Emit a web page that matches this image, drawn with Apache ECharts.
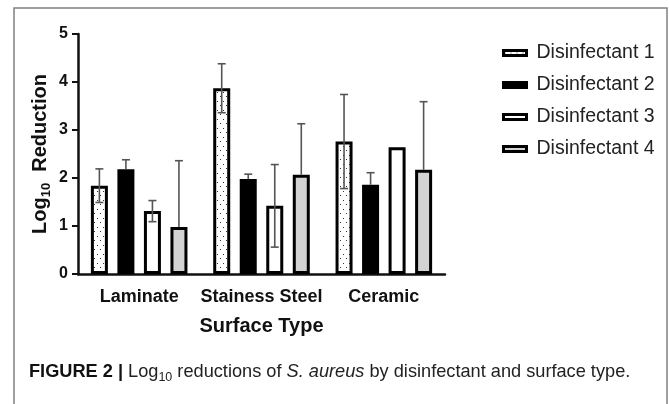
<!DOCTYPE html>
<html><head><meta charset="utf-8">
<script src="https://cdn.jsdelivr.net/npm/echarts@6/dist/echarts.min.js"></script>
<style>html,body{margin:0;padding:0;background:#fff}#c{width:669px;height:404px}</style>
</head><body><div id="c"></div>
<script>
// ---- data ----
const categories = ['Laminate', 'Stainess Steel', 'Ceramic'];
const seriesNames = ['Disinfectant 1', 'Disinfectant 2', 'Disinfectant 3', 'Disinfectant 4'];
const d1 = [1.84, 3.87, 2.76];
const d2 = [2.18, 1.98, 1.86];
const d3 = [1.31, 1.42, 2.64];
const d4 = [0.98, 2.07, 2.17];
const sd1 = [0.35, 0.51, 0.98];
const sd2 = [0.20, 0.10, 0.25];
const sd3 = [0.22, 0.86, 0];
const sd4 = [1.38, 1.06, 1.42];
const yTicks = [0, 1, 2, 3, 4, 5];

// ---- style ----
const FONT = "'Liberation Sans', Arial, Helvetica, sans-serif";
const BAR_W = 17, BAR_GAP = 0.56;
const PITCH = BAR_W * (1 + BAR_GAP);
const INK = '#111';

function dotPattern() {
  const c = document.createElement('canvas');
  c.width = 6; c.height = 9;
  const g = c.getContext('2d');
  g.fillStyle = '#fff'; g.fillRect(0, 0, 6, 9);
  g.fillStyle = '#333';
  g.fillRect(1, 2, 1, 1);
  g.fillRect(4, 6, 1, 1);
  return c;
}
const fills = [{ image: dotPattern(), repeat: 'repeat' }, '#000', '#fff', '#d3d3d3'];
const means = [d1, d2, d3, d4];
const sds = [sd1, sd2, sd3, sd4];
const showLower = [1, 0, 1, 0];

const errData = [];
for (let s = 0; s < 4; s++) for (let c = 0; c < categories.length; c++)
  errData.push([c, s, means[s][c], sds[s][c], showLower[s]]);

const chart = echarts.init(document.getElementById('c'), null, { renderer: 'canvas' });

const barSeries = seriesNames.map((n, i) => ({
  type: 'bar', name: n, data: means[i], barWidth: BAR_W, barGap: (BAR_GAP * 100) + '%',
  itemStyle: { color: fills[i], borderColor: '#000', borderWidth: 3 },
  emphasis: { disabled: true }, silent: true
}));

chart.setOption({
  animation: false,
  textStyle: { fontFamily: FONT },
  grid: { left: 78, right: 224, top: 34, bottom: 130 },
  legend: {
    orient: 'vertical', left: 497, top: 38, icon: 'rect',
    itemWidth: 23, itemHeight: 5, itemGap: 12, selectedMode: false,
    data: seriesNames,
    itemStyle: { borderWidth: 3, borderColor: '#000' },
    textStyle: { fontSize: 19.5, color: '#222', fontFamily: FONT, padding: [0, 0, 0, 5], lineHeight: 19 }
  },
  xAxis: {
    type: 'category', data: categories,
    axisLine: { lineStyle: { color: INK, width: 2.5 } },
    axisTick: { alignWithLabel: true, length: 8, lineStyle: { color: INK, width: 2 } },
    axisLabel: { interval: 0, fontSize: 18, fontWeight: 'bold', color: INK, margin: 14, fontFamily: FONT },
    name: 'Surface Type', nameLocation: 'middle', nameGap: 42,
    nameTextStyle: { fontSize: 20, fontWeight: 'bold', color: INK, fontFamily: FONT }
  },
  yAxis: {
    type: 'value', min: yTicks[0], max: yTicks[yTicks.length - 1], interval: 1,
    axisLine: { show: true, lineStyle: { color: INK, width: 2.5 } },
    axisTick: { show: true, length: 6, lineStyle: { color: INK, width: 2 } },
    axisLabel: { fontSize: 16, fontWeight: 'bold', color: INK, margin: 10, fontFamily: FONT },
    splitLine: { show: false },
    name: '{a|Log}{s|10}{a|  Reduction}', nameLocation: 'middle', nameGap: 25, nameRotate: 90,
    nameMoveOverlap: false,
    nameTextStyle: {
      lineHeight: 26,
      rich: {
        a: { fontSize: 20, fontWeight: 'bold', color: INK, lineHeight: 26, fontFamily: FONT },
        s: { fontSize: 13, fontWeight: 'bold', color: INK, lineHeight: 13, verticalAlign: 'bottom', fontFamily: FONT }
      }
    }
  },
  series: barSeries.concat([{
    type: 'custom', silent: true, z: 10, data: errData,
    encode: { x: 0, y: 2 },
    renderItem: function (params, api) {
      const c = api.value(0), s = api.value(1), m = api.value(2), sd = api.value(3), both = api.value(4);
      if (!sd) return;
      const off = (s - 1.5) * PITCH;
      const top = api.coord([c, m + sd]);
      const mid = api.coord([c, m]);
      const bot = api.coord([c, Math.max(0, m - sd)]);
      const x = top[0] + off;
      const y0 = both ? bot[1] : mid[1];
      const st = { stroke: '#555', lineWidth: 1.6 };
      const kids = [
        { type: 'line', shape: { x1: x, y1: y0, x2: x, y2: top[1] }, style: st },
        { type: 'line', shape: { x1: x - 4, y1: top[1], x2: x + 4, y2: top[1] }, style: st }
      ];
      if (both) kids.push({ type: 'line', shape: { x1: x - 4, y1: bot[1], x2: x + 4, y2: bot[1] }, style: st });
      return { type: 'group', children: kids };
    }
  }]),
  graphic: [
    { type: 'rect', silent: true, shape: { x: 14, y: 8, width: 653, height: 420 },
      style: { fill: 'none', stroke: '#808080', lineWidth: 1.5 } },
    { type: 'text', silent: true, x: 29, y: 372,
      style: {
        text: '{b|FIGURE 2 |} Log{s|10} reductions of {i|S. aureus} by disinfectant and surface type.',
        fontSize: 18.2, fontFamily: FONT, fill: '#222', lineHeight: 24, verticalAlign: 'middle',
        rich: {
          b: { fontSize: 18.2, fontWeight: 'bold', fill: '#111', lineHeight: 24, fontFamily: FONT },
          i: { fontSize: 18.2, fontStyle: 'italic', fill: '#222', lineHeight: 24, fontFamily: FONT },
          s: { fontSize: 12.5, fill: '#222', lineHeight: 12, verticalAlign: 'bottom', fontFamily: FONT }
        }
      } }
  ]
});
</script>
</body></html>
